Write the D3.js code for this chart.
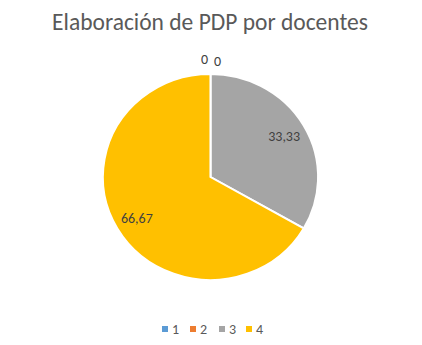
<!DOCTYPE html>
<html><head><meta charset="utf-8">
<script src="https://cdn.jsdelivr.net/npm/d3@7"></script>
<style>body{margin:0;background:#fff}svg{display:block}</style>
</head><body>
<svg id="c" width="422" height="345"></svg>
<script>
const title = "Elaboración de PDP por docentes";
const categories = ["1", "2", "3", "4"];
const values = [0, 0, 33.33, 66.67];
const labels = ["0", "0", "33,33", "66,67"];
const colors = ["#5B9BD5", "#ED7D31", "#A5A5A5", "#FFC000"];

const svg = d3.select("#c");
const font = "Carlito, Calibri, 'Liberation Sans', sans-serif";
svg.append("rect").attr("width",422).attr("height",345).attr("fill","#fff");

svg.append("text").attr("x",210).attr("y",30).attr("text-anchor","middle")
  .attr("font-family",font).attr("font-size",23.5).attr("fill","#595959").text(title);

const cx = 210.5, cy = 177, r = 103, sx = 1.045;
const data = categories.map((c,i)=>({c, v: values[i], l: labels[i], col: colors[i]}));
const pie = d3.pie().sort(null).value(d=>d.v);
const arcs = pie(data);
const arc = d3.arc().innerRadius(0).outerRadius(r);
const g = svg.append("g").attr("transform",`translate(${cx},${cy}) scale(${sx},1)`);
g.selectAll("path").data(arcs).join("path")
  .attr("d",arc).attr("fill",d=>d.data.col)
  .attr("stroke","#fff").attr("stroke-width",d=>d.data.v>0?2:0);

// labels
const lbl = svg.append("g").attr("font-family",font).attr("font-size",14).attr("fill","#404040");
const inner = d3.arc().innerRadius(r*0.79).outerRadius(r*0.79);
arcs.forEach((d,i)=>{
  let x, y;
  if (d.data.v > 0) {
    const p = inner.centroid(d);
    x = cx + p[0]*sx; y = cy + p[1] + 5;
  } else {
    const off = i === 0 ? -6 : 7;
    x = cx + off; y = cy - r - 9 + (i===0?-1:1);
  }
  lbl.append("text").attr("x",x).attr("y",y).attr("text-anchor","middle").text(d.data.l);
});

// legend
const lx = [162, 190, 219, 246];
const leg = svg.append("g").attr("font-family",font).attr("font-size",14).attr("fill","#595959");
data.forEach((d,i)=>{
  leg.append("rect").attr("x",lx[i]).attr("y",326).attr("width",6).attr("height",6).attr("fill",d.col);
  leg.append("text").attr("x",lx[i]+10).attr("y",334).text(d.c);
});
</script>
</body></html>
